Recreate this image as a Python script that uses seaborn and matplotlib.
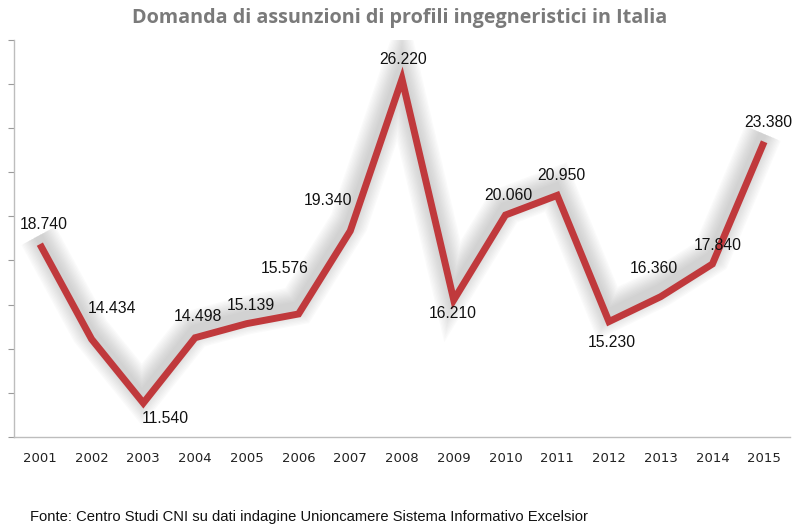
import numpy as np
import pandas as pd
import matplotlib
matplotlib.use("Agg")
import matplotlib.pyplot as plt
import matplotlib.patheffects as pe
import seaborn as sns

# Dati: domanda di assunzioni di ingegneri (Excelsior)
anni = [2001, 2002, 2003, 2004, 2005, 2006, 2007, 2008,
        2009, 2010, 2011, 2012, 2013, 2014, 2015]
assunzioni = [18740, 14434, 11540, 14498, 15139, 15576, 19340, 26220,
              16210, 20060, 20950, 15230, 16360, 17840, 23380]
etichette = ["18.740", "14.434", "11.540", "14.498", "15.139", "15.576", "19.340", "26.220",
             "16.210", "20.060", "20.950", "15.230", "16.360", "17.840", "23.380"]

# spostamento delle etichette (punti)
offset_etichette = [(3, 14), (15, 22), (16, -11), (2, 15), (3, 13), (-10, 33), (-16, 22), (1, 14),
                    (-1, -10), (2, 14), (3, 14), (2, -15), (-5, 20), (4, 13), (3, 14)]

ROSSO = "#c0393c"

sns.set_style("white")
plt.rcParams["font.family"] = ["Liberation Sans", "DejaVu Sans"]

df = pd.DataFrame({"anno": anni, "valore": assunzioni})

fig = plt.figure(figsize=(8, 5.31), dpi=100)
ax = fig.add_axes([0.0175, 0.177, 0.97, 0.748])

# ombra sfumata sotto la linea
ombra = [pe.SimpleLineShadow(offset=(-1, 6), shadow_color="#8a8a8a", alpha=0.035, linewidth=w)
         for w in range(28, 5, -2)]
sns.lineplot(data=df, x="anno", y="valore", ax=ax, color=ROSSO, linewidth=5,
             solid_joinstyle="miter", solid_capstyle="butt",
             path_effects=ombra + [pe.Normal()])

for x, y, t, (dx, dy) in zip(anni, assunzioni, etichette, offset_etichette):
    ax.annotate(t, (x, y), xytext=(dx, dy), textcoords="offset points",
                ha="center", va="center", fontsize=11.3, color="#111111")

ax.set_xlim(2000.5, 2015.5)
ax.set_ylim(10000, 28000)
ax.set_yticks(np.arange(10000, 28001, 2000))
ax.set_yticklabels([])
ax.set_xticks(anni)
ax.set_xticklabels([str(a) for a in anni], fontsize=9.5, family=["DejaVu Sans"], color="#222222")
ax.set_xticks(np.arange(2000.5, 2016, 1), minor=True)
ax.tick_params(axis="x", which="major", length=0, pad=11)
ax.tick_params(axis="x", which="minor", length=4, color="#9a9a9a", direction="out")
ax.tick_params(axis="y", length=4, color="#9a9a9a", direction="out", left=True)
ax.set_xlabel("")
ax.set_ylabel("")

for s in ["top", "right"]:
    ax.spines[s].set_visible(False)
for s in ["left", "bottom"]:
    ax.spines[s].set_color("#bdbdbd")
    ax.spines[s].set_linewidth(1)

fig.text(0.5, 0.966, "Domanda di assunzioni di profili ingegneristici in Italia",
         ha="center", va="center", fontsize=14.2, fontweight="bold", color="#7a7a7a",
         family=["Open Sans", "DejaVu Sans"])
fig.text(0.037, 0.027, "Fonte: Centro Studi CNI su dati indagine Unioncamere Sistema Informativo Excelsior",
         ha="left", va="center", fontsize=10.6, color="#111111")

fig.savefig("out.png", dpi=100)
